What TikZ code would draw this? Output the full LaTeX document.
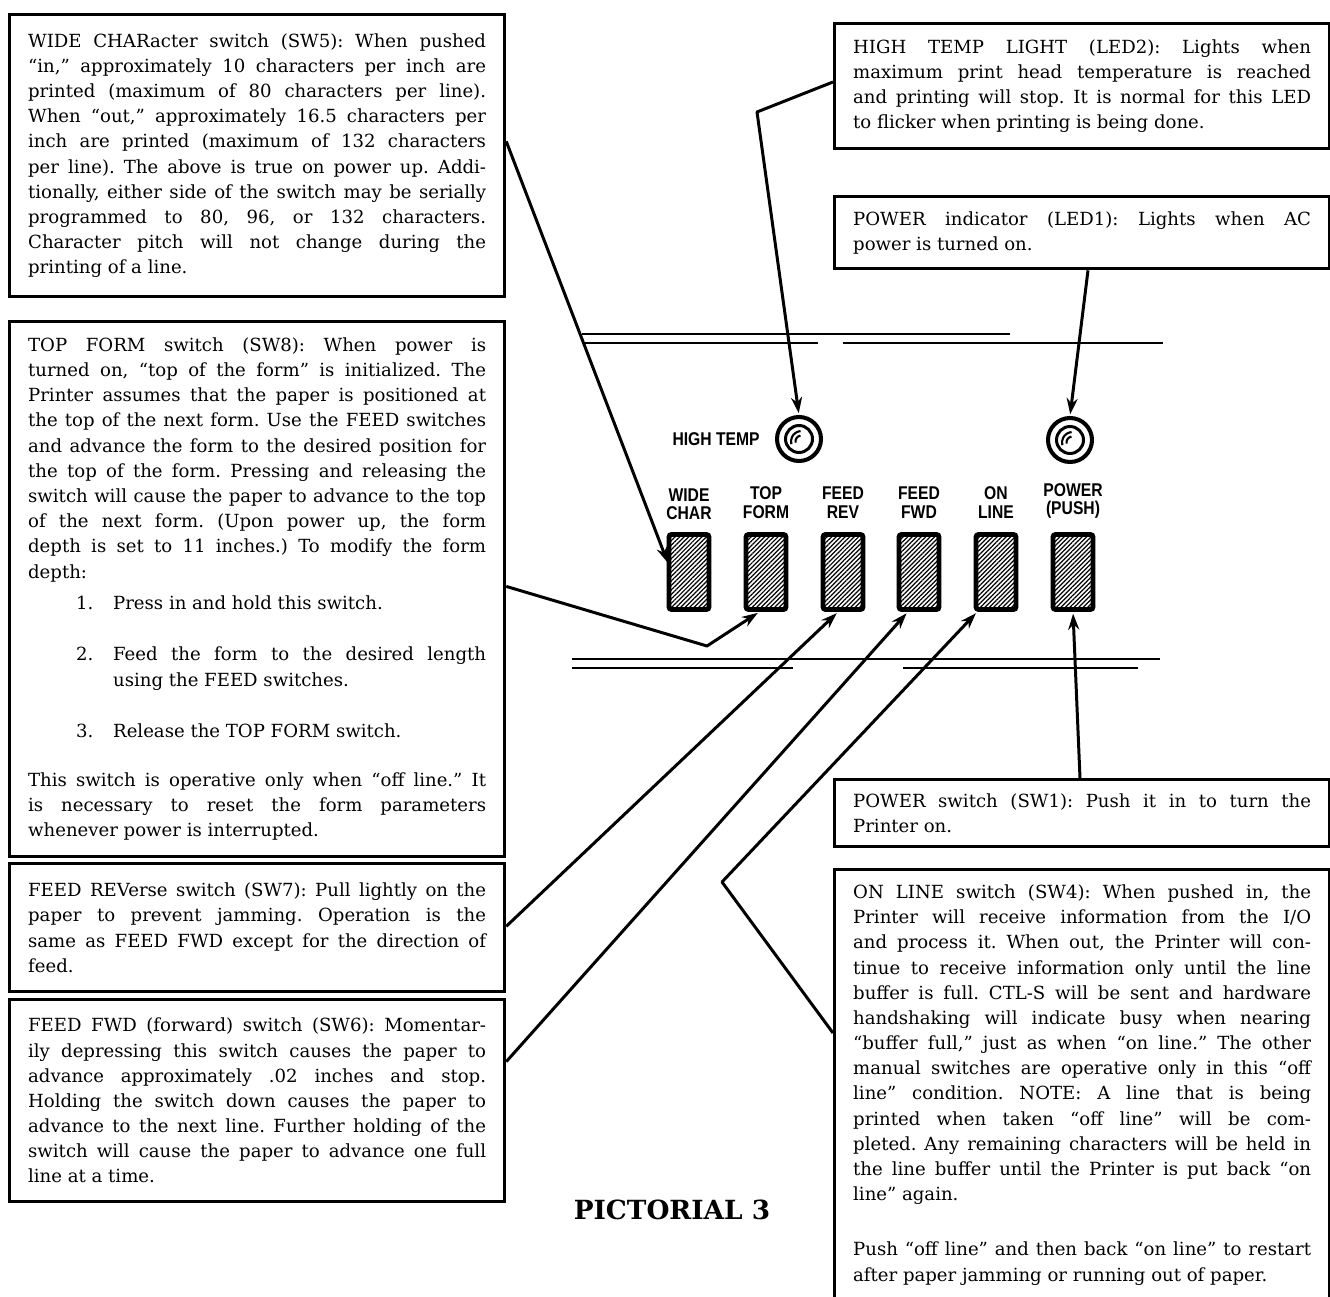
\documentclass[tikz,border=0pt]{standalone}
\usepackage{fontspec}
\setmainfont{DejaVu Serif}
\newfontfamily\panelfont[FakeStretch=0.85]{Liberation Sans}
\usetikzlibrary{arrows.meta}
\usetikzlibrary{calc}
\usetikzlibrary{patterns.meta}
\usetikzlibrary{positioning}
\frenchspacing
\tikzset{note/.style = {draw, line width=1.9pt, anchor=north west, align=justify,
                        text width=9.16cm, inner xsep=0.37cm, inner ysep=0pt,
                        font=\fontsize{10.3}{14.34}\selectfont}}
\tikzset{lead/.style = {line width=1.7pt, line join=round, shorten >=1pt,
                        -{Stealth[length=0.32cm, width=0.22cm]}}}
\tikzset{rail/.style = {line width=1.3pt}}
\tikzset{key/.style = {draw, line width=2.8pt, rounded corners=1.5pt,
                       minimum width=0.8cm, minimum height=1.5cm, inner sep=0pt,
                       pattern={Lines[angle=45, distance=1.8pt, line width=0.7pt]}}}
\tikzset{tag/.style = {font=\panelfont\bfseries\fontsize{10.5}{10.4}\selectfont,
                       align=center, inner sep=0pt}}
\tikzset{lamp/.style = {draw, circle, line width=2.3pt, minimum size=0.88cm, inner sep=0pt}}
\newcommand\formstep[3][0.53cm]{\par\vspace{#1}%
  {\leftskip=1.7cm\noindent\llap{\makebox[0.74cm][l]{#2}}#3\par}}

\begin{document}
\begin{tikzpicture}[x=0.02cm, y=-0.02cm]
  \useasboundingbox (0, 0) rectangle (1330, 1297);

  % left column
  \node [note, minimum height=5.64cm] (wide) at (8, 13)
    {WIDE CHARacter switch (SW5): When pushed\linebreak
     ``in,'' approximately 10 characters per inch are\linebreak
     printed (maximum of 80 characters per line).\linebreak
     When ``out,'' approximately 16.5 characters per\linebreak
     inch are printed (maximum of 132 characters\linebreak
     per line). The above is true on power up. Addi-\linebreak
     tionally, either side of the switch may be serially\linebreak
     programmed to 80, 96, or 132 characters.\linebreak
     Character pitch will not change during the\linebreak
     printing of a line.};
  \node [note, minimum height=10.7cm] (topform) at (8, 320)
    {TOP FORM switch (SW8): When power is\linebreak
     turned on, ``top of the form'' is initialized. The\linebreak
     Printer assumes that the paper is positioned at\linebreak
     the top of the next form. Use the FEED switches\linebreak
     and advance the form to the desired position for\linebreak
     the top of the form. Pressing and releasing the\linebreak
     switch will cause the paper to advance to the top\linebreak
     of the next form. (Upon power up, the form\linebreak
     depth is set to 11 inches.) To modify the form\linebreak
     depth:
     \formstep[0.12cm]{1.}{Press in and hold this switch.}
     \formstep{2.}{Feed the form to the desired length\linebreak
                   using the FEED switches.}
     \formstep[0.52cm]{3.}{Release the TOP FORM switch.}
     \vspace{0.48cm}\noindent
     This switch is operative only when ``off line.'' It\linebreak
     is necessary to reset the form parameters\linebreak
     whenever power is interrupted.};
  \node [note, minimum height=2.56cm] (feedrev) at (8, 862)
    {FEED REVerse switch (SW7): Pull lightly on the\linebreak
     paper to prevent jamming. Operation is the\linebreak
     same as FEED FWD except for the direction of\linebreak
     feed.};
  \node [note, minimum height=4.04cm] (feedfwd) at (8, 998)
    {FEED FWD (forward) switch (SW6): Momentar-\linebreak
     ily depressing this switch causes the paper to\linebreak
     advance approximately .02 inches and stop.\linebreak
     Holding the switch down causes the paper to\linebreak
     advance to the next line. Further holding of the\linebreak
     switch will cause the paper to advance one full\linebreak
     line at a time.};

  % right column
  \node [note, minimum height=2.5cm] (hightemp) at (833, 22)
    {HIGH TEMP LIGHT (LED2): Lights when\linebreak
     maximum print head temperature is reached\linebreak
     and printing will stop. It is normal for this LED\linebreak
     to flicker when printing is being done.};
  \node [note, minimum height=1.44cm] (powerind) at (833, 195)
    {POWER indicator (LED1): Lights when AC\linebreak
     power is turned on.};
  \node [note, minimum height=1.34cm] (powersw) at (833, 778)
    {POWER switch (SW1): Push it in to turn the\linebreak
     Printer on.};
  \node [note, inner ysep=0.3cm] (online) at (833, 868)
    {ON LINE switch (SW4): When pushed in, the\linebreak
     Printer will receive information from the I/O\linebreak
     and process it. When out, the Printer will con-\linebreak
     tinue to receive information only until the line\linebreak
     buffer is full. CTL-S will be sent and hardware\linebreak
     handshaking will indicate busy when nearing\linebreak
     ``buffer full,'' just as when ``on line.'' The other\linebreak
     manual switches are operative only in this ``off\linebreak
     line'' condition. NOTE: A line that is being\linebreak
     printed when taken ``off line'' will be com-\linebreak
     pleted. Any remaining characters will be held in\linebreak
     the line buffer until the Printer is put back ``on\linebreak
     line'' again.\par\vspace{0.6cm}
     Push ``off line'' and then back ``on line'' to restart\linebreak
     after paper jamming or running out of paper.\par
     \rule{0pt}{1.2cm}};

  % panel
  \draw [rail] (582, 334) -- (1010, 334);
  \draw [rail] (582, 343) -- (818, 343) (843, 343) -- (1163, 343);
  \draw [rail] (572, 659) -- (1160, 659);
  \draw [rail] (572, 668) -- (793, 668) (903, 668) -- (1138, 668);

  \node [lamp] (ledtemp) at (799, 439) {};
  \node [lamp] (ledpower) at (1070, 440) {};
  \foreach \led in {ledtemp, ledpower}
    {
      \draw [line width=1.7pt] (\led) circle [radius=0.27cm];
      \draw [line width=1.2pt] ([shift={(0.05cm,-0.05cm)}]\led.center) ++(95:0.21cm) arc (95:195:0.21cm);
      \draw [line width=1.2pt] ([shift={(0.05cm,-0.05cm)}]\led.center) ++(100:0.12cm) arc (100:190:0.12cm);
    }
  \node [tag, left=0.3cm of ledtemp] (lbtemp) {HIGH TEMP};

  \foreach \nm/\xx/\lbl in {wide/689/WIDE\\CHAR, top/766/TOP\\FORM, rev/843/FEED\\REV,
                            fwd/919/FEED\\FWD, line/996/ON\\LINE, power/1073/POWER\\(PUSH)}
    {
      \node [key] (sw\nm) at (\xx, 572) {};
      \node [tag, above=0.27cm of sw\nm] (lb\nm) {\lbl};
    }

  % leaders
  \coordinate (bendtop) at (707, 646);
  \coordinate (bendline) at (722, 882);
  \coordinate (bendtemp) at (757, 112);
  \draw [lead] ($(wide.north east)!0.45!(wide.south east)$)
    -- ($(swwide.north west)!0.4!(swwide.south west)$);
  \draw [lead] ($(topform.north east)!0.495!(topform.south east)$) -- (bendtop)
    -- ($(swtop.south west)!0.35!(swtop.south east)$);
  \draw [lead] ($(feedrev.north east)!0.49!(feedrev.south east)$)
    -- ($(swrev.south west)!0.39!(swrev.south east)$);
  \draw [lead] ($(feedfwd.north east)!0.31!(feedfwd.south east)$)
    -- ($(swfwd.south west)!0.25!(swfwd.south east)$);
  \draw [lead] ($(online.north west)+(0,165)$) -- (bendline)
    -- ($(swline.south west)!0.08!(swline.south east)$);
  \draw [lead] ($(hightemp.north west)+(0,60)$) -- (bendtemp) -- (ledtemp.north);
  \draw [lead] ($(powerind.south west)+(255,0)$) -- (ledpower.north);
  \draw [lead] ($(powersw.north west)+(247,0)$) -- (swpower.south);

  \node [font=\bfseries\fontsize{15}{18}\selectfont] (caption) at (672, 1210) {PICTORIAL 3};
\end{tikzpicture}
\end{document}
